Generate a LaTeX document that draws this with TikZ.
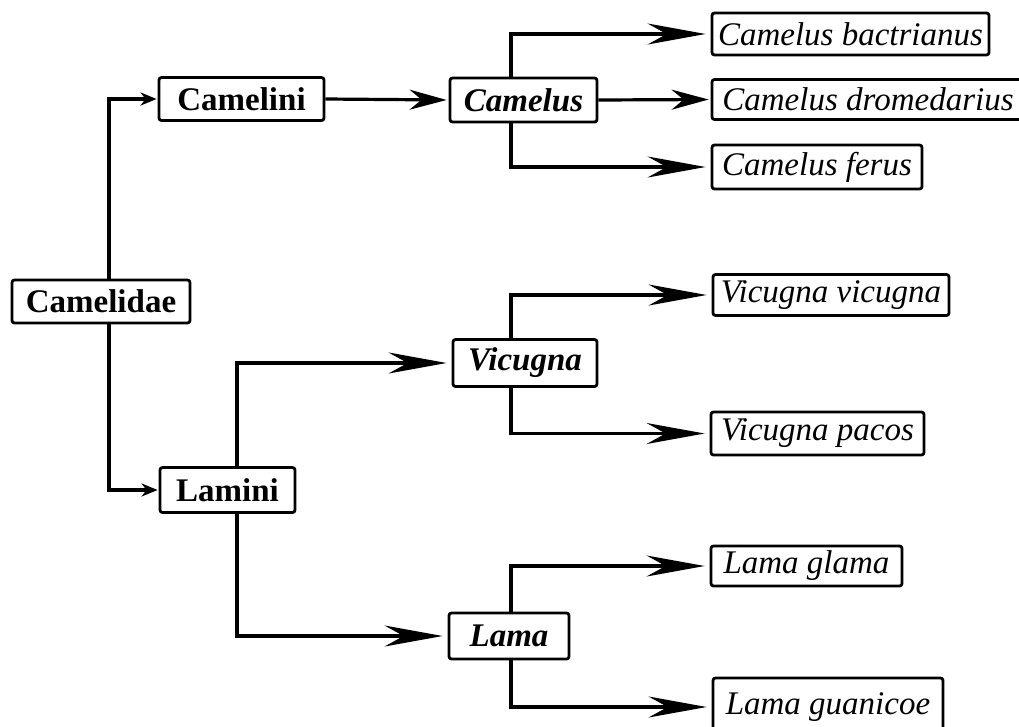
\documentclass[tikz,border=0pt]{standalone}
\usepackage{fontspec}
\setmainfont{Liberation Serif}
\usetikzlibrary{arrows.meta}
\begin{document}
\begin{tikzpicture}[x=1pt,y=-1pt,
  box/.style={draw,line width=2.8pt,rounded corners=2.5pt,inner sep=0pt,
    font=\fontsize{33}{38}\selectfont},
  taxon/.style={box,font=\fontsize{33}{38}\selectfont\bfseries},
  genus/.style={box,font=\fontsize{33}{38}\selectfont\bfseries\itshape},
  species/.style={box,font=\fontsize{33}{38}\selectfont\itshape},
  link/.style={line width=3.2pt},
  arrS/.style={link,-{Stealth[length=16pt,width=13pt,inset=5pt]},shorten >=1pt},
  arrM/.style={link,-{Stealth[length=37pt,width=20pt,inset=12pt]},shorten >=2pt},
  arrL/.style={link,-{Stealth[length=58pt,width=21pt,inset=19pt]},shorten >=5pt}]
\useasboundingbox (0,0) rectangle (1019,726);
% higher taxa
\node[taxon,minimum width=178pt,minimum height=43pt] (camelidae) at (101,301.5) {Camelidae};
\node[taxon,minimum width=165pt,minimum height=43pt] (camelini) at (241.5,99) {Camelini};
\node[taxon,minimum width=135pt,minimum height=45pt] (lamini) at (227.5,490) {Lamini};
% genera
\node[genus,minimum width=147pt,minimum height=44pt] (camelus) at (523.5,100) {Camelus};
\node[genus,minimum width=144pt,minimum height=47pt] (vicugna) at (525,363) {Vicugna};
\node[genus,minimum width=120pt,minimum height=46pt] (lama) at (509,636) {Lama};
% species
\node[species,minimum width=277pt,minimum height=42pt] (bactrianus) at (850.5,34) {Camelus bactrianus};
\node[species,minimum width=312pt,minimum height=40pt] (dromedarius) at (868,99.5) {Camelus dromedarius};
\node[species,minimum width=210pt,minimum height=44pt] (ferus) at (817,167) {Camelus ferus};
\node[species,minimum width=236pt,minimum height=41pt] (vvicugna) at (831,295) {Vicugna vicugna};
\node[species,minimum width=213pt,minimum height=43pt] (vpacos) at (817.5,433.5) {Vicugna pacos};
\node[species,minimum width=191pt,minimum height=40pt] (lglama) at (806.5,566) {Lama glama};
\node[species,minimum width=230pt,minimum height=58pt] (lguanicoe) at (828,707) {Lama guanicoe};
% branch columns
\coordinate (c0) at (109,0);
\coordinate (c1) at (237,0);
\coordinate (c2) at (511,0);
% connectors
\draw[arrS] (camelidae.north -| c0) |- (camelini.west);
\draw[arrS] (camelidae.south -| c0) |- (lamini.west);
\draw[arrM] (camelini.east) -- (camelus.west);
\draw[arrM] (camelus.east) -- (dromedarius.west);
\draw[arrL] (camelus.north -| c2) |- (bactrianus.west);
\draw[arrL] (camelus.south -| c2) |- (ferus.west);
\draw[arrL] (lamini.north -| c1) |- (vicugna.west);
\draw[arrL] (lamini.south -| c1) |- (lama.west);
\draw[arrL] (vicugna.north -| c2) |- (vvicugna.west);
\draw[arrL] (vicugna.south -| c2) |- (vpacos.west);
\draw[arrL] (lama.north -| c2) |- (lglama.west);
\draw[arrL] (lama.south -| c2) |- (lguanicoe.west);
\end{tikzpicture}
\end{document}
